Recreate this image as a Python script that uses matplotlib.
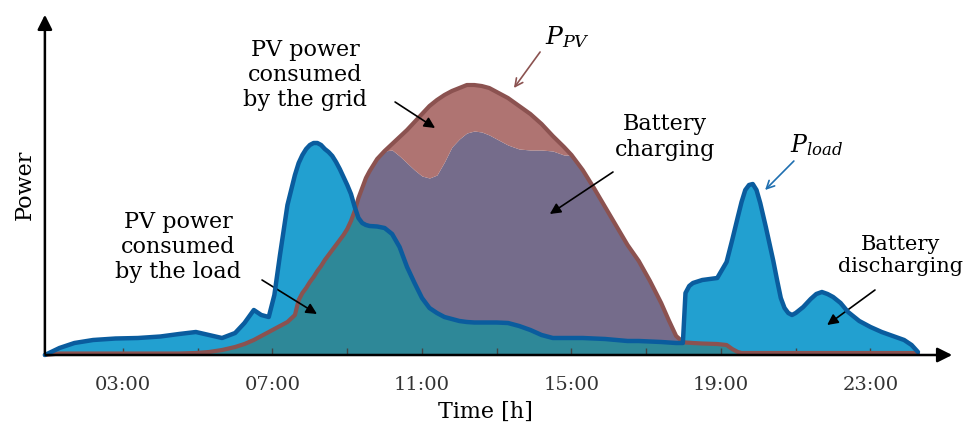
import numpy as np
import matplotlib.pyplot as plt

# time axis (hours) and curves, power in arbitrary units
hours = [0.91, 1.3, 1.7, 2.2, 2.8, 3.4, 4.0, 4.5, 4.95, 5.3,
         5.65, 6.0, 6.25, 6.5, 6.7, 6.9, 7.05, 7.2, 7.4, 7.6,
         7.7, 7.8, 7.9, 8.0, 8.1, 8.2, 8.3, 8.4, 8.5, 8.6,
         8.7, 8.8, 8.9, 9.0, 9.1, 9.2, 9.3, 9.4, 9.5, 9.6,
         9.8, 10.0, 10.2, 10.4, 10.6, 10.8, 11.0, 11.2, 11.4, 11.6,
         11.8, 12.0, 12.2, 12.4, 12.6, 12.8, 13.0, 13.3, 13.6, 13.9,
         14.2, 14.5, 14.8, 15.0, 15.3, 15.6, 15.9, 16.2, 16.5, 16.8,
         17.1, 17.4, 17.6, 17.8, 17.98, 18.05, 18.15, 18.25, 18.5, 18.9,
         19.15, 19.3, 19.45, 19.55, 19.65, 19.75, 19.85, 19.95, 20.05, 20.2,
         20.3, 20.4, 20.5, 20.6, 20.7, 20.8, 20.9, 21.0, 21.2, 21.4,
         21.55, 21.7, 21.85, 22.0, 22.2, 22.4, 22.7, 23.0, 23.3, 23.6,
         23.9, 24.1, 24.27]

p_load = [0, 7, 12, 15, 16.5, 17, 18.5, 21, 23, 20,
          17, 22, 32, 45, 40, 38, 60, 100, 150, 180,
          192, 200, 206, 210, 212, 212, 210, 206, 203, 199,
          193, 186, 178, 170, 161, 148, 137, 132, 130, 129,
          128.5, 127, 121, 108, 88, 72, 57, 47, 42, 38,
          36, 34, 33, 32.5, 32.5, 32.5, 32.5, 32, 29, 25,
          20, 17, 17, 17, 17, 16.5, 16, 15, 14, 14,
          13.5, 13, 12.5, 12, 12, 62, 69, 72, 75, 77,
          93, 115, 138, 153, 165, 170, 171, 165, 152, 128,
          111, 94, 75, 57, 47, 42, 40, 42, 48, 56,
          61, 63, 61, 58, 52, 43, 34, 28, 23, 19,
          15, 10, 3]

p_pv = [0, 1.5, 1.5, 1.5, 1.5, 1.5, 1.5, 1.5, 2, 3,
        5, 8, 11, 15, 19, 23, 26, 29, 33, 40,
        55, 62, 67, 73, 78, 84, 89, 95, 100, 105,
        110, 115, 120, 126, 134, 144, 157, 167, 177, 184,
        196, 204, 211, 218, 225, 233, 241, 249, 255, 260,
        264, 267, 270, 270, 269, 267, 263, 257, 249, 241,
        231, 219, 208, 200, 185, 167, 148, 129, 110, 94,
        74, 52, 35, 19, 13, 12.5, 12.3, 12, 11.5, 11,
        10, 6, 3, 2, 2, 2, 2, 2, 2, 2,
        2, 2, 2, 2, 2, 2, 2, 2, 2, 2,
        2, 2, 2, 2, 2, 2, 2, 2, 2, 2,
        2, 2, 2]

# upper edge of the battery charging area (below P_PV around noon)
charge_hours = [10.0, 10.2, 10.4, 10.6, 10.8, 11.0, 11.2, 11.4, 11.6, 11.8,
                12.0, 12.2, 12.4, 12.6, 12.8, 13.0, 13.3, 13.6, 13.9, 14.2,
                14.5, 14.8, 15.0]
charge = [204, 205, 199, 192, 185, 179, 177, 180, 193, 208,
          216, 222, 224, 223, 220, 216, 210, 206, 205, 205,
          204, 200, 200]

tick_hours = list(range(3, 24, 2))
tick_labels = ['03:00', '', '07:00', '', '11:00', '', '15:00', '', '19:00', '', '23:00']

c_light = '#22a0d0'
c_teal = '#2e8898'
c_purple = '#756c8b'
c_pink = '#af7472'
c_load = '#0a5c9e'
c_pv = '#8b5250'

plt.rcParams['font.family'] = ['DejaVu Serif']
plt.rcParams['mathtext.fontset'] = 'dejavuserif'

h = np.array(hours)
load = np.array(p_load, dtype=float)
pv = np.array(p_pv, dtype=float)
top = pv.copy()
m = np.isin(h, charge_hours)
top[m] = np.minimum(np.array(charge, dtype=float), pv[m])

fig = plt.figure(figsize=(9.68, 4.36), dpi=100)
ax = fig.add_axes([0, 0, 1, 1])
ax.set_xlim(-0.291, 25.609)
ax.set_ylim(-81, 355)

# areas
ax.fill_between(h, 0, np.minimum(load, pv), color=c_teal, lw=0)
ax.fill_between(h, pv, load, where=load >= pv, interpolate=True, color=c_light, lw=0)
ax.fill_between(h, load, top, where=pv > load, interpolate=True, color=c_purple, lw=0)
ax.fill_between(h, top, pv, color=c_pink, lw=0)

# curves
ax.plot(h, pv, color=c_pv, lw=3, solid_joinstyle='round', solid_capstyle='round', zorder=3)
ax.plot(h, load, color=c_load, lw=3.2, solid_joinstyle='round', solid_capstyle='round', zorder=4)

# arrow axes
ax.annotate('', xy=(25.26, 0), xytext=(0.85, 0),
            arrowprops=dict(arrowstyle='-|>', lw=1.8, color='black', mutation_scale=22), zorder=6)
ax.annotate('', xy=(0.91, 343), xytext=(0.91, -1),
            arrowprops=dict(arrowstyle='-|>', lw=1.8, color='black', mutation_scale=22), zorder=6)

for s in ax.spines.values():
    s.set_visible(False)
ax.spines['bottom'].set_position(('data', 0))
ax.set_xticks(tick_hours)
ax.set_xticklabels(tick_labels)
ax.tick_params(axis='x', direction='in', length=5, width=1, color='#444444',
               pad=15, labelsize=14, labelcolor='#333333')
ax.set_yticks([])

ax.text(0.38, 170, 'Power', rotation=90, fontsize=16, ha='center', va='center')
ax.text(12.69, -57, 'Time [h]', fontsize=16, ha='center', va='center')

# annotations
txt = dict(fontsize=16, ha='center', va='center', linespacing=1.2)
black = dict(arrowstyle='-|>', lw=1.2, color='black', mutation_scale=16, shrinkA=0, shrinkB=0)

ax.text(7.87, 280, 'PV power\nconsumed\nby the grid', **txt)
ax.annotate('', xy=(11.35, 227), xytext=(10.28, 253), arrowprops=black)

ax.text(17.50, 218, 'Battery\ncharging', **txt)
ax.annotate('', xy=(14.42, 141), xytext=(16.11, 183), arrowprops=black)

ax.text(4.47, 108, 'PV power\nconsumed\nby the load', **txt)
ax.annotate('', xy=(8.19, 41), xytext=(6.72, 75), arrowprops=black)

ax.text(23.79, 100, 'Battery\ndischarging', fontsize=15, ha='center', va='center', linespacing=1.2)
ax.annotate('', xy=(21.84, 30), xytext=(23.12, 65), arrowprops=black)

ax.text(14.90, 318, '$P_{PV}$', fontsize=18, ha='center', va='center')
ax.annotate('', xy=(13.46, 267), xytext=(14.16, 303),
            arrowprops=dict(arrowstyle='->', lw=1.2, color=c_pv, mutation_scale=14, shrinkA=0, shrinkB=0))

ax.text(21.55, 210, '$P_{load}$', fontsize=17, ha='center', va='center')
ax.annotate('', xy=(20.18, 165), xytext=(20.95, 194),
            arrowprops=dict(arrowstyle='->', lw=1.2, color='#1f6fb0', mutation_scale=14, shrinkA=0, shrinkB=0))

fig.savefig('out.png', dpi=100)
